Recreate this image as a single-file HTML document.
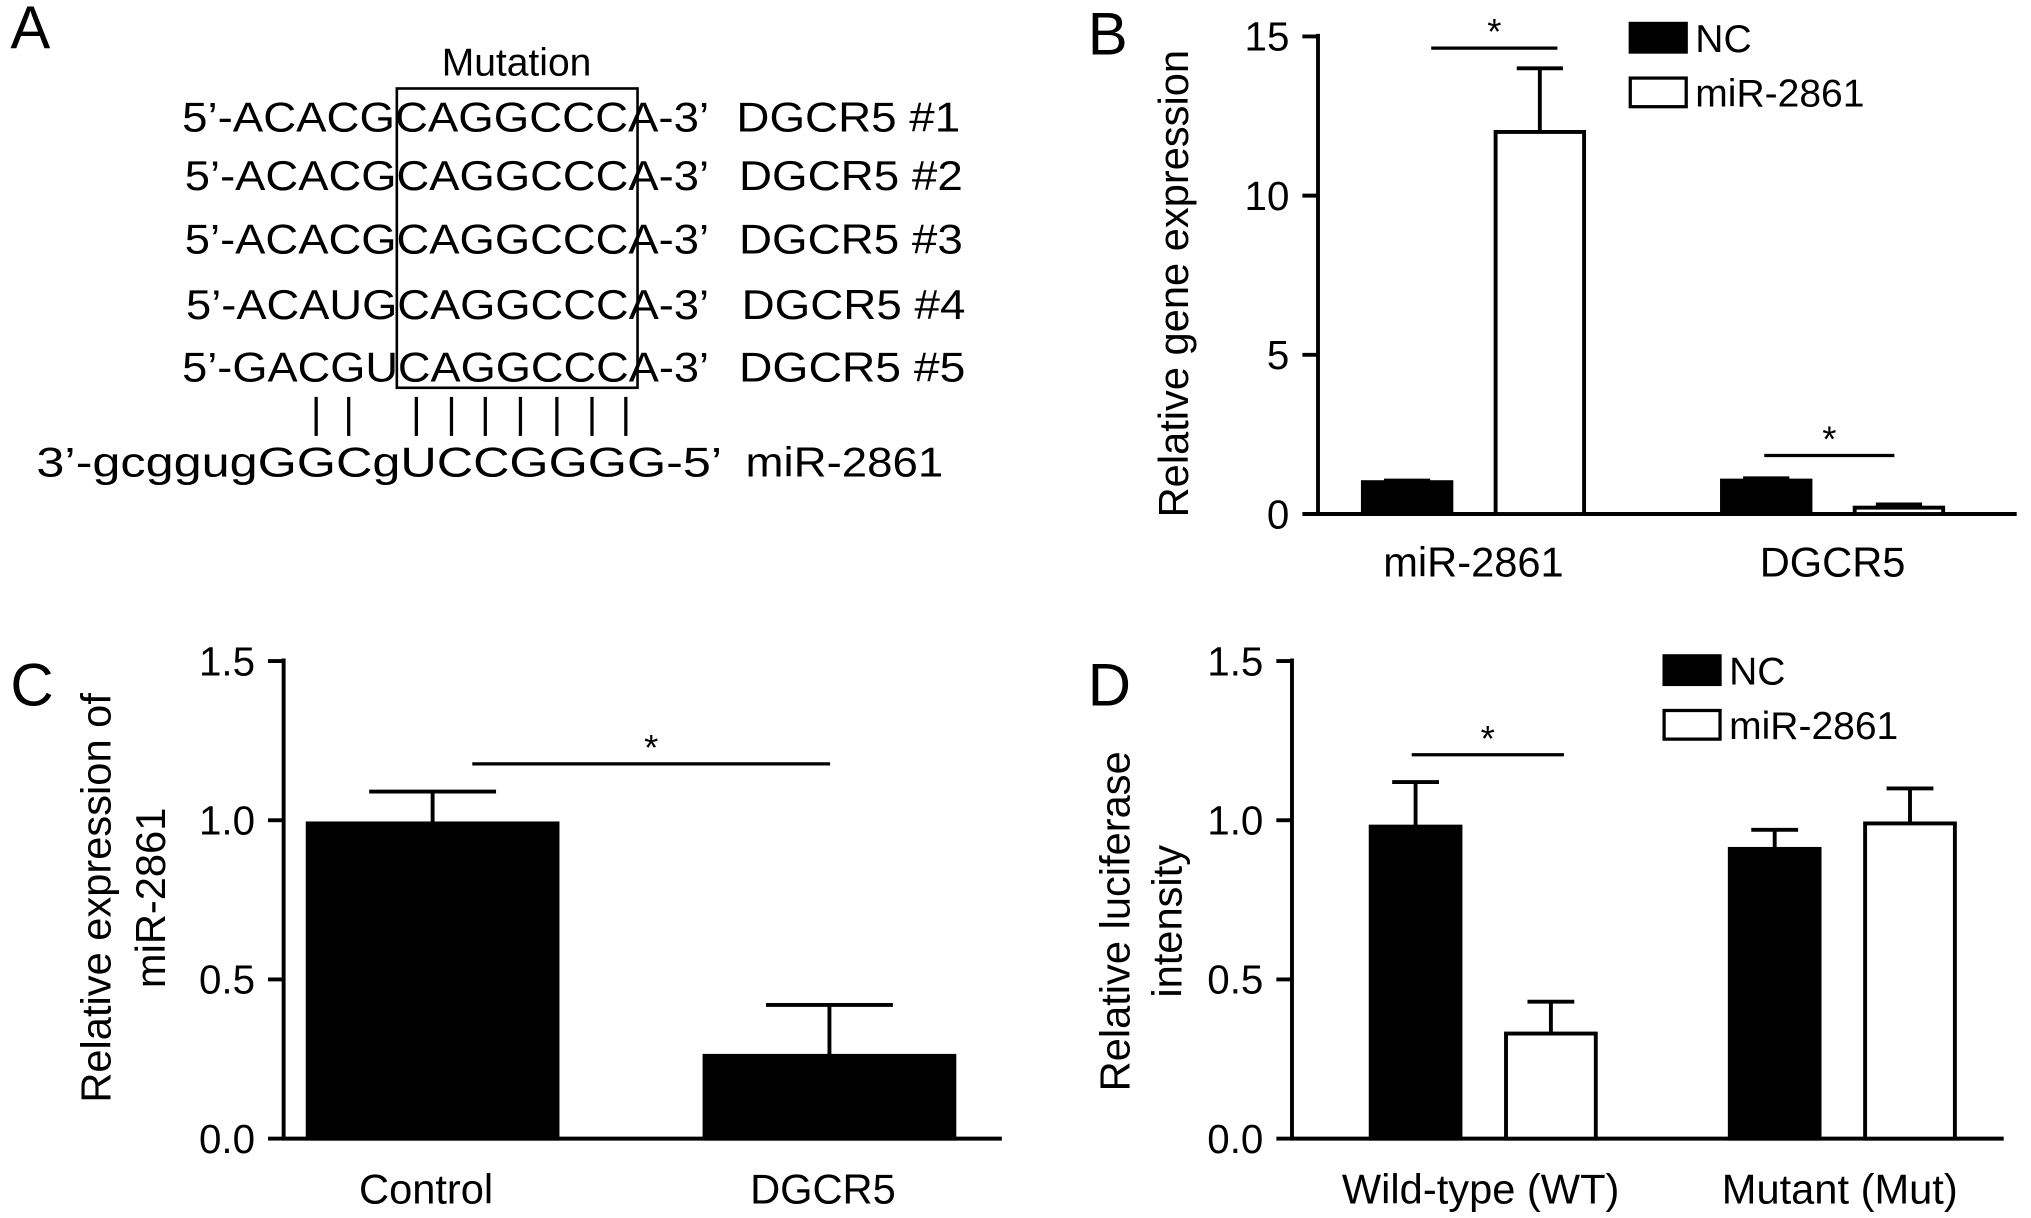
<!DOCTYPE html>
<html><head><meta charset="utf-8"><style>
html,body{margin:0;padding:0;background:#fff;}
svg{display:block;font-family:"Liberation Sans",Arial,sans-serif;}
</style></head><body>
<svg id="fig" width="2031" height="1218" viewBox="0 0 1561 936" preserveAspectRatio="none" xmlns="http://www.w3.org/2000/svg">
<g font-size="32" fill="#000">
<text x="8" y="37" font-size="46">A</text>
<text x="397" y="58" text-anchor="middle" font-size="30">Mutation</text>
<rect x="305" y="68" width="185" height="230" fill="none" stroke="#000" stroke-width="2"/>
<text x="140" y="101" textLength="405" lengthAdjust="spacingAndGlyphs">5’-ACACGCAGGCCCA-3’</text>
<text x="566" y="101" textLength="172" lengthAdjust="spacingAndGlyphs">DGCR5 #1</text>
<text x="142" y="146" textLength="403" lengthAdjust="spacingAndGlyphs">5’-ACACGCAGGCCCA-3’</text>
<text x="568" y="146" textLength="172" lengthAdjust="spacingAndGlyphs">DGCR5 #2</text>
<text x="142" y="195" textLength="403" lengthAdjust="spacingAndGlyphs">5’-ACACGCAGGCCCA-3’</text>
<text x="568" y="195" textLength="172" lengthAdjust="spacingAndGlyphs">DGCR5 #3</text>
<text x="143" y="245" textLength="402" lengthAdjust="spacingAndGlyphs">5’-ACAUGCAGGCCCA-3’</text>
<text x="570" y="245" textLength="172" lengthAdjust="spacingAndGlyphs">DGCR5 #4</text>
<text x="140" y="293" textLength="405" lengthAdjust="spacingAndGlyphs">5’-GACGUCAGGCCCA-3’</text>
<text x="568" y="293" textLength="174" lengthAdjust="spacingAndGlyphs">DGCR5 #5</text>
<g stroke="#000" stroke-width="2.5">
<line x1="243" y1="305" x2="243" y2="335"/><line x1="268" y1="305" x2="268" y2="335"/>
<line x1="320" y1="305" x2="320" y2="335"/><line x1="347" y1="305" x2="347" y2="335"/>
<line x1="373" y1="305" x2="373" y2="335"/><line x1="400" y1="305" x2="400" y2="335"/>
<line x1="428" y1="305" x2="428" y2="335"/><line x1="455" y1="305" x2="455" y2="335"/>
<line x1="481" y1="305" x2="481" y2="335"/>
</g>
<text x="28" y="366" textLength="527" lengthAdjust="spacingAndGlyphs">3’-gcggugGGCgUCCGGGG-5’</text>
<text x="573" y="366" textLength="152" lengthAdjust="spacingAndGlyphs">miR-2861</text>
</g>
<text x="836" y="42" font-size="46">B</text>
<text x="8" y="542" font-size="46">C</text>
<text x="836" y="542" font-size="46">D</text>
<g id="chartB"></g>
<g id="chartC"></g>
<g id="chartD"></g>
</svg>
<script>
const NS="http://www.w3.org/2000/svg";
// Panel B data
const bCategories=["miR-2861","DGCR5"];
const bNC=[1.0,1.05];
const bNCerr=[1.05,1.12];
const bMir=[12.0,0.2];
const bMirErr=[14.0,0.3];
const bTicks=[0,5,10,15];
// Panel C data
const cCategories=["Control","DGCR5"];
const cValues=[0.99,0.26];
const cErr=[1.09,0.42];
const cTicks=["0.0","0.5","1.0","1.5"];
// Panel D data
const dCategories=["Wild-type (WT)","Mutant (Mut)"];
const dNC=[0.98,0.91];
const dNCerr=[1.12,0.97];
const dMir=[0.33,0.99];
const dMirErr=[0.43,1.10];

function el(p,tag,attrs,txt){const e=document.createElementNS(NS,tag);for(const k in attrs)e.setAttribute(k,attrs[k]);if(txt!==undefined)e.textContent=txt;p.appendChild(e);return e;}

function axes(g,x0,x1,yTop,yBot,maxV,ticks){
  const y=v=>yBot-(v/maxV)*(yBot-yTop);
  const ax=el(g,'line',{x1:x0,y1:yTop-2,x2:x0,y2:yBot,stroke:'#000','stroke-width':3});
  
  const xa=el(g,'line',{x1:x0-1,y1:yBot,x2:x1,y2:yBot,stroke:'#000','stroke-width':3});
  
  ticks.forEach(t=>{const v=parseFloat(t);
    const tl=el(g,'line',{x1:x0-12,y1:y(v),x2:x0,y2:y(v),stroke:'#000','stroke-width':3});
    
    const tx=el(g,'text',{x:x0-22,y:y(v)+11,'text-anchor':'end','font-size':31},String(t));
    
  });
  return y;
}
function bar(g,x,w,v,err,y,fill,name){
  const yb=y(0);
  const eb=el(g,'line',{x1:x+w/2,y1:y(v),x2:x+w/2,y2:y(err),stroke:'#000','stroke-width':3});
  
  const cap=el(g,'line',{x1:x+w/2-w*0.25,y1:y(err),x2:x+w/2+w*0.25,y2:y(err),stroke:'#000','stroke-width':3});
  
  const r=el(g,'rect',{x:x+1.5,y:y(v),width:w-3,height:Math.max(0,yb-y(v)),fill:fill,stroke:'#000','stroke-width':3});
  
}
function sig(g,x1,x2,yy){
  const l=el(g,'line',{x1:x1,y1:yy,x2:x2,y2:yy,stroke:'#000','stroke-width':2.5});
  
  const s=el(g,'text',{x:(x1+x2)/2,y:yy-3,'text-anchor':'middle','font-size':28},'*');
  
}
function legend(g,x,y1,y2){
  const a=el(g,'rect',{x:x,y:y1,width:43,height:22,fill:'#000',stroke:'#000','stroke-width':2.5});
  
  const at=el(g,'text',{x:x+50,y:y1+22,'font-size':30},'NC');
  
  const b=el(g,'rect',{x:x,y:y2,width:43,height:22,fill:'#fff',stroke:'#000','stroke-width':2.5});
  
  const bt=el(g,'text',{x:x+50,y:y2+22,'font-size':30},'miR-2861');
  
}
function ylab(g,x,cy,txt){
  const t=el(g,'text',{x:0,y:0,'text-anchor':'middle','font-size':32,transform:`translate(${x},${cy}) rotate(-90)`},txt);
  
}
function xlab(g,x,yy,txt){
  const t=el(g,'text',{x:x,y:yy,'text-anchor':'middle','font-size':32},txt);
  
}
// B
{const g=document.getElementById('chartB');
 const y=axes(g,1013,1550,28,395,15,bTicks);
 const grpX=[1046,1322],w=71,gap=102;
 bCategories.forEach((c,i)=>{
   bar(g,grpX[i],w,bNC[i],bNCerr[i],y,'#000','bar-nc-'+c.toLowerCase());
   bar(g,grpX[i]+gap,w,bMir[i],bMirErr[i],y,'#fff','bar-mir-'+c.toLowerCase());
   xlab(g,grpX[i]+(gap+w)/2,443,c);
 });
 sig(g,1100,1197,37);sig(g,1356,1456,350);
 legend(g,1253,18,60);
 ylab(g,913,218,'Relative gene expression');
}
// C
{const g=document.getElementById('chartC');
 const y=axes(g,218,770,508,875,1.5,cTicks);
 const xs=[235,540],w=195;
 cCategories.forEach((c,i)=>{
   bar(g,xs[i],w,cValues[i],cErr[i],y,'#000','bar-'+c.toLowerCase());
   xlab(g,xs[i]+w/2-5,925,c);
 });
 sig(g,363,638,587);
 ylab(g,85,690,'Relative expression of');ylab(g,127,690,'miR-2861');
}
// D
{const g=document.getElementById('chartD');
 const y=axes(g,993,1540,508,875,1.5,cTicks);
 const grpX=[1052,1328],w=72,gap=104;
 dCategories.forEach((c,i)=>{
   bar(g,grpX[i],w,dNC[i],dNCerr[i],y,'#000','bar-nc-'+i);
   bar(g,grpX[i]+gap,w,dMir[i],dMirErr[i],y,'#fff','bar-mir-'+i);
   xlab(g,grpX[i]+(gap+w)/2-2,925,c);
 });
 sig(g,1085,1202,580);
 legend(g,1279,504,546);
 ylab(g,868,708,'Relative luciferase');ylab(g,908,708,'intensity');
}
</script>
</body></html>
